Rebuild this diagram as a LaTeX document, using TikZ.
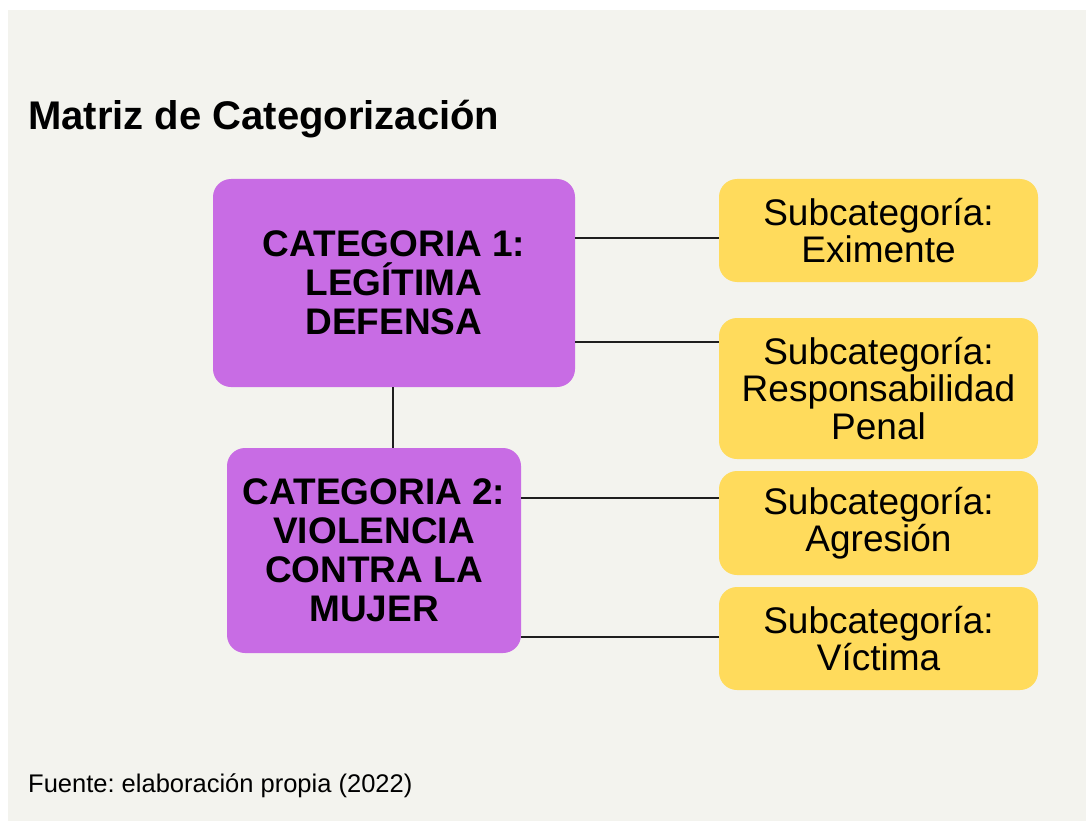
\documentclass[tikz,border=0pt]{standalone}
\usepackage{fontspec}
\setmainfont{Liberation Sans}
\frenchspacing
\definecolor{bg}{RGB}{243,243,238}
\definecolor{catc}{RGB}{200,108,228}
\definecolor{subc}{RGB}{255,219,92}
\definecolor{linec}{RGB}{30,30,30}
\begin{document}
\begin{tikzpicture}[x=1pt,y=-1pt,
  catbox/.style={fill=catc, rounded corners=18pt, inner sep=0pt, align=center,
    font=\fontsize{37}{39}\selectfont\bfseries},
  subbox/.style={fill=subc, rounded corners=18pt, inner sep=0pt, align=center,
    minimum width=319pt, font=\fontsize{37}{37.5}\selectfont},
  link/.style={draw=linec, line width=2.2pt}]
\useasboundingbox (0,0) rectangle (1086,821);
\fill[white] (0,0) rectangle (1086,821);
\fill[bg] (8,10) rectangle (1086,821);
\node[anchor=base west, inner sep=0pt, font=\fontsize{40}{48}\selectfont\bfseries] (title) at (28,130) {Matriz de Categorización};
\node[catbox, minimum width=362pt, minimum height=208pt] (cat1) at (394,283) {CATEGORIA 1:\\LEGÍTIMA\\DEFENSA};
\node[catbox, minimum width=294pt, minimum height=205pt] (cat2) at (374,550.5) {CATEGORIA 2:\\VIOLENCIA\\CONTRA LA\\MUJER};
\node[subbox, minimum height=103pt] (sub1) at (878.5,230.5) {Subcategoría:\\Eximente};
\node[subbox, minimum height=141pt] (sub2) at (878.5,388.5) {Subcategoría:\\Responsabilidad\\Penal};
\node[subbox, minimum height=104pt] (sub3) at (878.5,523) {Subcategoría:\\Agresión};
\node[subbox, minimum height=103pt] (sub4) at (878.5,638.5) {Subcategoría:\\Víctima};
\draw[link] (cat1.east |- 0,238) -- (sub1.west |- 0,238);
\draw[link] (cat1.east |- 0,342) -- (sub2.west |- 0,342);
\draw[link] (cat2.east |- 0,498) -- (sub3.west |- 0,498);
\draw[link] (cat2.east |- 0,637) -- (sub4.west |- 0,637);
\draw[link] (cat1.south -| 393,0) -- (cat2.north -| 393,0);
\node[anchor=base west, inner sep=0pt, font=\fontsize{25.5}{30}\selectfont] (src) at (28,792) {Fuente: elaboración propia (2022)};
\end{tikzpicture}
\end{document}
